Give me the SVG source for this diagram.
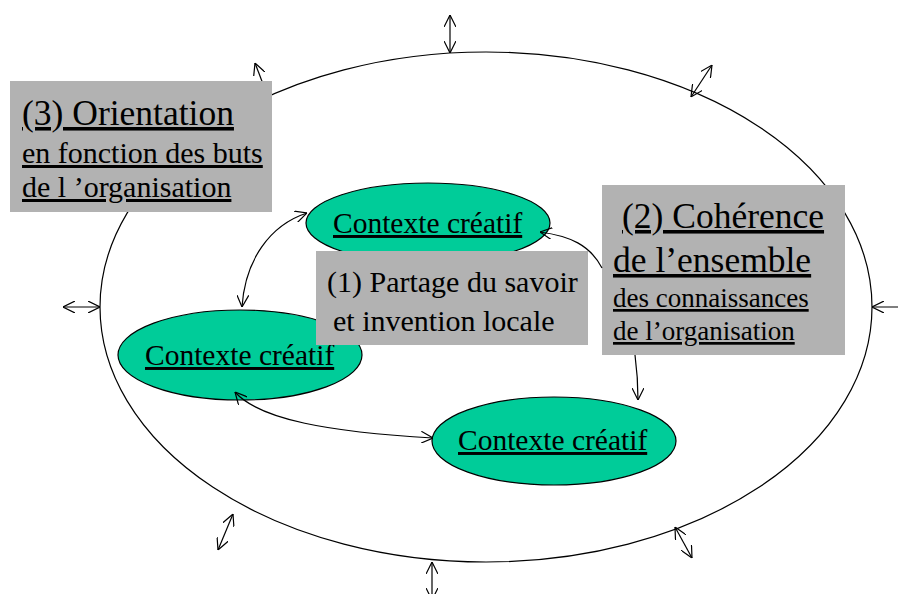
<svg xmlns="http://www.w3.org/2000/svg" width="898" height="594" viewBox="0 0 898 594">
  <style>
    .ring { fill: none; stroke: #000; stroke-width: 1.2; }
    .ctx { fill: #00CC99; stroke: #000; stroke-width: 1.2; }
    .box { fill: #B2B2B2; stroke: none; }
    .link { fill: none; stroke: #000; stroke-width: 1.2; }
  </style>
  <defs>
    <marker id="head" viewBox="0 0 12 12" refX="12" refY="6" markerWidth="12" markerHeight="12" markerUnits="userSpaceOnUse" orient="auto-start-reverse">
      <path d="M0,0 L12,6 L0,12" fill="none" stroke="#000" stroke-width="1.2"/>
    </marker>
  </defs>

  <!-- outer organisation boundary -->
  <ellipse id="boundary" class="ring" cx="486" cy="307" rx="386" ry="255"/>

  <!-- exchanges with the environment -->
  <g id="exchanges" class="link">
    <line x1="450" y1="15" x2="450" y2="53" marker-start="url(#head)" marker-end="url(#head)"/>
    <line x1="255" y1="63" x2="268" y2="97" marker-start="url(#head)"/>
    <line x1="712" y1="65" x2="691" y2="97" marker-start="url(#head)" marker-end="url(#head)"/>
    <line x1="63" y1="307" x2="100" y2="307" marker-start="url(#head)" marker-end="url(#head)"/>
    <line x1="872" y1="307" x2="910" y2="307" marker-start="url(#head)" marker-end="url(#head)"/>
    <line x1="233" y1="514" x2="218" y2="550" marker-start="url(#head)" marker-end="url(#head)"/>
    <line x1="432" y1="562" x2="432" y2="600" marker-start="url(#head)" marker-end="url(#head)"/>
    <line x1="675" y1="527" x2="692" y2="558" marker-start="url(#head)" marker-end="url(#head)"/>
  </g>

  <!-- (3) orientation -->
  <g id="orientation">
    <rect class="box" x="10" y="81" width="262" height="131"/>
    <text font-family="Liberation Serif" font-size="35.5" text-decoration="underline" x="22" y="125">(3) Orientation</text>
    <text font-family="Liberation Serif" font-size="30" text-decoration="underline" x="22" y="163">en fonction des buts</text>
    <text font-family="Liberation Serif" font-size="30" text-decoration="underline" x="22" y="197">de l ’organisation</text>
  </g>

  <!-- creative contexts -->
  <g id="ctx-top">
    <ellipse class="ctx" cx="428" cy="223" rx="122" ry="40"/>
    <text font-family="Liberation Serif" font-size="29.5" text-decoration="underline" x="333" y="233">Contexte créatif</text>
  </g>
  <g id="ctx-left">
    <ellipse class="ctx" cx="240" cy="355" rx="122" ry="45"/>
    <text font-family="Liberation Serif" font-size="29.5" text-decoration="underline" x="145" y="365">Contexte créatif</text>
  </g>
  <g id="ctx-right">
    <ellipse class="ctx" cx="554" cy="441" rx="122" ry="44"/>
    <text font-family="Liberation Serif" font-size="29.5" text-decoration="underline" x="458" y="450">Contexte créatif</text>
  </g>

  <!-- (1) local sharing -->
  <g id="partage">
    <rect class="box" x="316" y="251" width="272" height="94"/>
    <text font-family="Liberation Serif" font-size="30" x="327" y="292">(1) Partage du savoir</text>
    <text font-family="Liberation Serif" font-size="30" x="333" y="331">et invention locale</text>
  </g>

  <!-- (2) coherence -->
  <g id="coherence">
    <rect class="box" x="602" y="185" width="243" height="170"/>
    <text font-family="Liberation Serif" font-size="35.5" text-decoration="underline" x="622" y="228">(2) Cohérence</text>
    <text font-family="Liberation Serif" font-size="35.5" text-decoration="underline" x="613" y="272">de l’ensemble</text>
    <text font-family="Liberation Serif" font-size="27" text-decoration="underline" x="613" y="307">des connaissances</text>
    <text font-family="Liberation Serif" font-size="27" text-decoration="underline" x="613" y="340">de l’organisation</text>
  </g>

  <!-- connectors between contexts -->
  <g id="connectors" class="link">
    <path d="M307,213 C270,225 245,260 242,307" marker-start="url(#head)" marker-end="url(#head)"/>
    <path d="M235,392 C260,420 330,432 433,438" marker-start="url(#head)" marker-end="url(#head)"/>
    <path d="M602,268 C590,245 570,236 540,232" marker-end="url(#head)"/>
    <path d="M635,355 C637,370 638,385 638,400" marker-end="url(#head)"/>
  </g>
</svg>
